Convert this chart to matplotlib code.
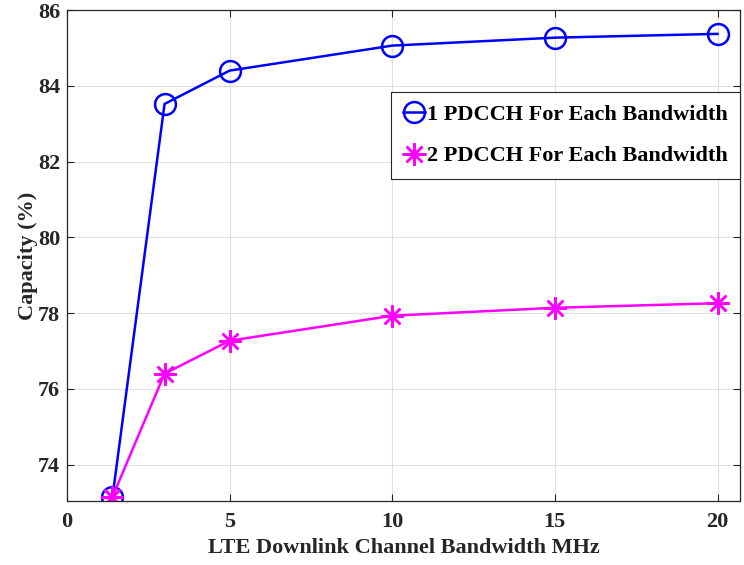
import numpy as np
import matplotlib
matplotlib.use('Agg')
from matplotlib import rcParams, pyplot as pp

rcParams['font.family'] = ['Liberation Serif', 'DejaVu Serif']
rcParams['font.weight'] = 'bold'

# data
bandwidth = [1.4, 3, 5, 10, 15, 20]
cap_1pdcch = [73.15, 83.52, 84.40, 85.06, 85.27, 85.37]
cap_2pdcch = [73.15, 76.40, 77.27, 77.93, 78.14, 78.26]
xticks = [0, 5, 10, 15, 20]
yticks = [74, 76, 78, 80, 82, 84, 86]

fig = pp.figure(figsize=(7.44, 5.65), dpi=100)
ax = fig.add_axes([0.090, 0.1133, 0.905, 0.869])

ax.plot(bandwidth, cap_1pdcch, color='#0000ff', lw=1.8, marker='o',
	ms=15, mfc='none', mew=1.8, label='1 PDCCH For Each Bandwidth')
ax.plot(bandwidth, cap_2pdcch, color='#ff00ff', lw=1.8, marker=(8, 2, 0),
	ms=16, mew=1.8, label='2 PDCCH For Each Bandwidth')

ax.set_xlim(0, 20.7)
ax.set_ylim(73.04, 86)
ax.set_xticks(xticks)
ax.set_yticks(yticks)
ax.grid(True, color='#e0e0e0', lw=0.8)
ax.set_axisbelow(True)
ax.tick_params(direction='in', top=True, right=True, labelsize=16,
	color='#262626', length=5)
ax.tick_params(axis='x', pad=8)
ax.tick_params(axis='y', pad=5)
for sp in ax.spines.values():
	sp.set_color('#262626')
	sp.set_linewidth(0.9)
for lbl in ax.get_xticklabels() + ax.get_yticklabels():
	lbl.set_fontweight('bold')
	lbl.set_color('#262626')

ax.set_xlabel('LTE Downlink Channel Bandwidth MHz', fontsize=16,
	fontweight='bold', color='#262626', labelpad=4)
ax.set_ylabel('Capacity (%)', fontsize=16, fontweight='bold',
	color='#262626', labelpad=0)

leg = ax.legend(loc='upper right', bbox_to_anchor=(1.0, 0.833),
	prop={'size': 16, 'weight': 'bold'}, fancybox=False, framealpha=1,
	edgecolor='#262626', handlelength=1.0, handletextpad=0.1,
	borderpad=0.55, labelspacing=0.95, borderaxespad=0)
leg.get_frame().set_linewidth(0.8)

fig.savefig('out.png', dpi=100)
